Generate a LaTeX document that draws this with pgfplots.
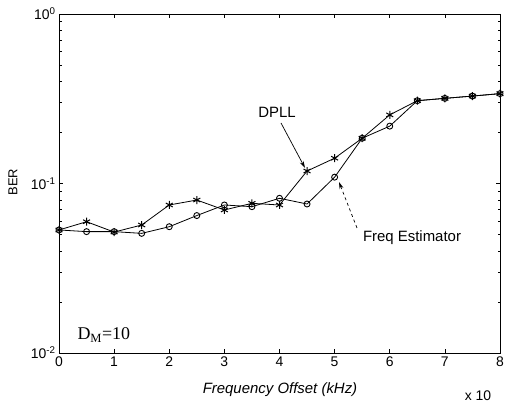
\documentclass[border=0pt]{standalone}
\usepackage{fontspec}
\setmainfont{Liberation Sans}
\newfontfamily\serifFont{Liberation Serif}
\usepackage{pgfplots}
\pgfplotsset{compat=1.18}
\usetikzlibrary{arrows.meta}
\pgfplotstableread{
x   y
0   0.0532
0.5 0.0595
1   0.0517
1.5 0.0569
2   0.0747
2.5 0.0799
3   0.0698
3.5 0.0764
4   0.0747
4.5 0.1185
5   0.141
5.5 0.185
6   0.254
6.5 0.308
7   0.318
7.5 0.328
8   0.339
}\dpll
\pgfplotstableread{
x   y
0   0.0532
0.5 0.052
1   0.052
1.5 0.0508
2   0.0556
2.5 0.0647
3   0.0747
3.5 0.073
4   0.0818
4.5 0.0757
5   0.109
5.5 0.185
6   0.218
6.5 0.308
7   0.318
7.5 0.328
8   0.339
}\freq
\begin{document}
\begin{tikzpicture}
\useasboundingbox (0bp,0bp) rectangle (505bp,405bp);
\begin{axis}[
  at={(59bp,52bp)}, anchor=south west,
  scale only axis, width=441bp, height=339bp,
  ymode=log, xmin=0, xmax=8, ymin=0.01, ymax=1,
  xtick={0,1,2,3,4,5,6,7,8},
  xticklabels={0,1,2,3,4,5,6,7,8},
  ytick={0.01,0.1,1},
  yticklabels={10\textsuperscript{-2},10\textsuperscript{-1},10\textsuperscript{0}},
  tick align=inside,
  major tick length=4bp, minor tick length=2.5bp,
  tick label style={font=\fontsize{14}{16}\selectfont},
  axis line style={line width=0.8bp},
  every tick/.style={black, line width=0.6bp},
]
\addplot[black, line width=0.8bp, mark=asterisk, mark size=4bp, mark options={line width=1bp}] table[x=x,y=y] {\dpll};
\addplot[black, line width=0.8bp, mark=o, mark size=3bp, mark options={fill=white, line width=0.9bp}] table[x=x,y=y] {\freq};
\end{axis}
\node[font=\fontsize{15}{17}\selectfont] at (277bp,293bp) {DPLL};
\draw[line width=0.7bp, -{Stealth[length=7bp,width=4bp]}] (281bp,282bp) -- (305bp,237bp);
\node[font=\fontsize{15}{17}\selectfont] at (412bp,167bp) {Freq Estimator};
\draw[line width=0.7bp, dashed, -{Stealth[length=7bp,width=4bp]}] (357bp,177bp) -- (339bp,223bp);
\node[font=\itshape\fontsize{15}{17}\selectfont] at (280bp,15bp) {Frequency Offset (kHz)};
\node[font=\fontsize{14}{16}\selectfont] at (478bp,9bp) {x 10};
\node[font=\fontsize{13}{15}\selectfont, rotate=90] at (13bp,223bp) {BER};
\node[font=\serifFont\fontsize{18}{20}\selectfont, anchor=west] at (74bp,70bp) {D\textsubscript{M}=10};
\end{tikzpicture}
\end{document}
